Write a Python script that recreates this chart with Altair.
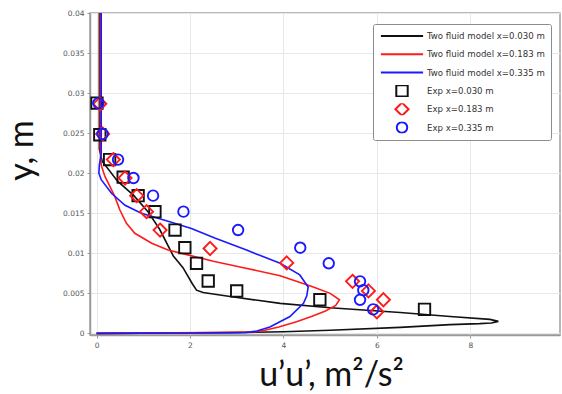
import altair as alt
import pandas as pd

# Two-fluid model profiles of u'u' (m^2/s^2) against height y (m),
# listed in order along each curve (top of the domain down to the wall).
model_030_x = [0.06, 0.06, 0.12, 0.45, 0.80, 1.10, 1.35, 1.64, 1.85, 2.05, 2.14, 2.28, 2.86, 3.93,
               5.00, 6.50, 7.57, 8.42, 8.60, 8.45, 8.20, 7.57, 6.50, 5.00, 4.00, 3.00, 0.00]
model_030_y = [0.040, 0.023, 0.0215, 0.019, 0.0172, 0.0152, 0.013, 0.0097, 0.0082, 0.0062, 0.0054,
               0.0051, 0.0046, 0.00375, 0.0032, 0.0026, 0.0021, 0.00175, 0.0015, 0.0013, 0.00122,
               0.0011, 0.00075, 0.0004, 0.0002, 0.0001, 0.0]

model_183_x = [0.08, 0.08, 0.10, 0.18, 0.39, 0.50, 0.64, 0.82, 1.18, 1.53, 1.89, 2.50, 3.07, 3.93,
               4.64, 5.00, 5.20, 5.12, 4.90, 4.60, 4.28, 3.90, 3.60, 3.40, 2.50, 0.00]
model_183_y = [0.040, 0.023, 0.021, 0.0196, 0.0171, 0.0154, 0.01375, 0.0125, 0.01125, 0.0104,
               0.0099, 0.009, 0.0083, 0.0072, 0.0058, 0.005, 0.0042, 0.0035, 0.0028, 0.0021,
               0.00145, 0.0008, 0.0004, 0.0002, 0.0001, 0.0]

model_335_x = [0.10, 0.10, 0.06, 0.05, 0.10, 0.32, 0.61, 0.96, 1.53, 2.03, 2.53, 3.21, 3.93, 4.35,
               4.53, 4.50, 4.43, 4.14, 3.71, 3.43, 3.20, 2.00, 0.00]
model_335_y = [0.040, 0.0225, 0.021, 0.020, 0.0192, 0.0175, 0.016, 0.015, 0.014, 0.0131, 0.0119,
               0.0104, 0.00875, 0.0073, 0.0058, 0.0047, 0.00375, 0.0021, 0.0008, 0.0003, 0.00012,
               0.00005, 0.0]

# Measured profiles
exp_030_x = [0.01, 0.07, 0.28, 0.57, 0.89, 1.25, 1.68, 1.89, 2.14, 2.39, 3.00, 4.78, 7.02]
exp_030_y = [0.02875, 0.0248, 0.0217, 0.0195, 0.0172, 0.0152, 0.0129, 0.0107, 0.00875, 0.00654,
             0.0053, 0.0042, 0.003]

exp_183_x = [0.07, 0.13, 0.36, 0.61, 0.86, 1.07, 1.36, 2.43, 4.07, 5.48, 5.82, 6.14, 6.00]
exp_183_y = [0.02866, 0.0249, 0.0217, 0.0194, 0.0172, 0.0152, 0.0129, 0.0106, 0.0088, 0.0065,
             0.0053, 0.0042, 0.0027]

exp_335_x = [0.04, 0.13, 0.46, 0.79, 1.21, 1.86, 3.03, 4.36, 4.97, 5.64, 5.71, 5.64, 5.92]
exp_335_y = [0.02875, 0.0249, 0.0217, 0.0194, 0.0172, 0.0152, 0.0129, 0.0107, 0.00875, 0.0065,
             0.0054, 0.0042, 0.003]

series_names = ["Two fluid model x=0.030 m", "Two fluid model x=0.183 m", "Two fluid model x=0.335 m",
                "Exp x=0.030 m", "Exp x=0.183 m", "Exp x=0.335 m"]
series_colors = ["#111111", "#ff1a1a", "#1a1aff", "#111111", "#ff1a1a", "#1a1aff"]

# Symbol paths (unit coordinates, scaled by the symbol size): a long
# horizontal stroke for the model curves, square / diamond / circle for data.
STROKE = "M-3.7,0H3.7"
SQUARE = "M-1,-1H1V1H-1Z"
DIAMOND = "M0,-1.15L1.15,0L0,1.15L-1.15,0Z"
CIRCLE = "M0.92,0A0.92,0.92,0,1,1,-0.92,0A0.92,0.92,0,1,1,0.92,0Z"
series_shapes = [STROKE, STROKE, STROKE, SQUARE, DIAMOND, CIRCLE]
SYMBOL_SIZE = 130


def frame(name, xs, ys):
    return pd.DataFrame({"series": name, "u": xs, "y": ys, "idx": range(len(xs))})


lines_df = pd.concat([
    frame(series_names[0], model_030_x, model_030_y),
    frame(series_names[1], model_183_x, model_183_y),
    frame(series_names[2], model_335_x, model_335_y),
])
points_df = pd.concat([
    frame(series_names[3], exp_030_x, exp_030_y),
    frame(series_names[4], exp_183_x, exp_183_y),
    frame(series_names[5], exp_335_x, exp_335_y),
])

x_enc = alt.X(
    "u:Q",
    scale=alt.Scale(domain=[-0.14, 9.92], nice=False, zero=False),
    axis=alt.Axis(
        values=[0, 2, 4, 6, 8], title="u’u’, m²/s²",
        titleX=241, titleY=50, titleAlign="center", titleBaseline="alphabetic",
        titleFont="Lato", titleFontSize=34, titleFontWeight="normal", titleColor="#111111",
    ),
)
y_enc = alt.Y(
    "y:Q",
    scale=alt.Scale(domain=[-0.0002, 0.04], nice=False, zero=False),
    axis=alt.Axis(
        values=[0, 0.005, 0.01, 0.015, 0.02, 0.025, 0.03, 0.035, 0.04],
        labelExpr="datum.value == 0 ? '0' : format(datum.value, '~g')",
        title="y, m", titleAngle=-90, titleX=-58, titleY=137,
        titleAlign="center", titleBaseline="alphabetic",
        titleFont="Lato", titleFontSize=34, titleFontWeight="normal", titleColor="#111111",
    ),
)
color_enc = alt.Color(
    "series:N",
    scale=alt.Scale(domain=series_names, range=series_colors),
    legend=alt.Legend(
        title=None, orient="none", legendX=283, legendY=11,
        padding=6, rowPadding=6.3, clipHeight=12, symbolOffset=16, labelOffset=18,
        symbolSize=SYMBOL_SIZE, symbolStrokeWidth=2,
        labelFont="DejaVu Sans", labelFontSize=8.6, labelColor="#333333",
        fillColor="white", strokeColor="#8c8c8c", cornerRadius=2,
    ),
)
shape_enc = alt.Shape("series:N", scale=alt.Scale(domain=series_names, range=series_shapes))

model_lines = alt.Chart(lines_df).mark_line(strokeWidth=1.6).encode(
    x=x_enc, y=y_enc, color=color_enc, order="idx:Q"
)
exp_points = alt.Chart(points_df).mark_point(
    filled=False, strokeWidth=1.9, opacity=1, size=SYMBOL_SIZE
).encode(
    x=x_enc, y=y_enc, color=color_enc, shape=shape_enc
)

chart = alt.layer(model_lines, exp_points).properties(
    width=470, height=322,
    autosize=alt.AutoSizeParams(type="none"),
    padding={"left": 90, "top": 13, "right": 2, "bottom": 59},
).configure_view(
    stroke="#a0a0a0", strokeWidth=1.5
).configure_axis(
    grid=True, gridColor="#e8e8e8", gridWidth=1,
    domainColor="#9a9a9a", domainWidth=1.5,
    tickColor="#9a9a9a", tickSize=3,
    labelFont="DejaVu Sans", labelFontSize=7.5, labelColor="#555555", labelPadding=3,
)

chart.save("out.html", embed_options={"renderer": "svg", "actions": False})
